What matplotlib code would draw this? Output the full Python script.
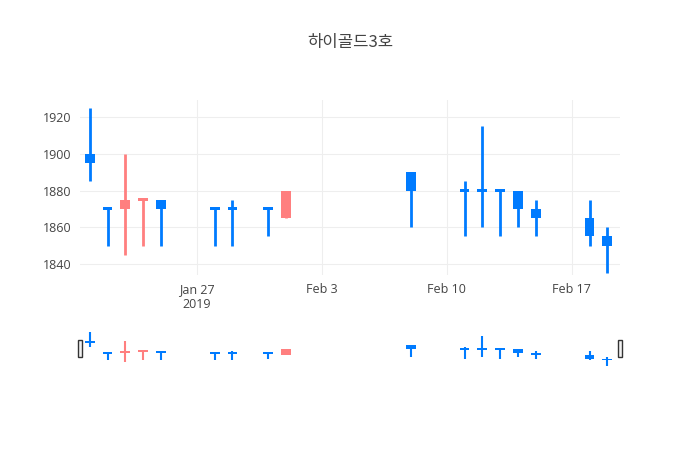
import matplotlib
matplotlib.use("Agg")
import matplotlib.pyplot as plt
import matplotlib.dates as mdates
import numpy as np
import datetime as dt

plt.rcParams['font.family'] = ['Open Sans', 'Noto Sans CJK KR', 'DejaVu Sans']

dates = ["2019-01-21", "2019-01-22", "2019-01-23", "2019-01-24", "2019-01-25",
         "2019-01-28", "2019-01-29", "2019-01-31", "2019-02-01", "2019-02-08",
         "2019-02-11", "2019-02-12", "2019-02-13", "2019-02-14", "2019-02-15",
         "2019-02-18", "2019-02-19"]
opens = [1900, 1870, 1870, 1875, 1875, 1870, 1870, 1870, 1865, 1890, 1880, 1880, 1880, 1880, 1870, 1865, 1855]
highs = [1925, 1870, 1900, 1875, 1875, 1870, 1875, 1870, 1880, 1890, 1885, 1915, 1880, 1880, 1875, 1875, 1860]
lows = [1885, 1850, 1845, 1850, 1850, 1850, 1850, 1855, 1865, 1860, 1855, 1860, 1855, 1860, 1855, 1850, 1835]
closes = [1895, 1870, 1875, 1875, 1870, 1870, 1870, 1870, 1880, 1880, 1880, 1880, 1880, 1870, 1865, 1855, 1850]
up_flags = [False, False, True, True, False, False, False, False, True, False,
            False, False, False, False, False, False, False]

UP = '#ff7f7f'
DOWN = '#007bff'

x = mdates.date2num([dt.datetime.strptime(d, "%Y-%m-%d") for d in dates])

fig = plt.figure(figsize=(7, 4.5), dpi=100)
ax = fig.add_axes([80/700, 175/450, 540/700, 175/450])
sl = fig.add_axes([80/700, 82/450, 540/700, 38/450])

def draw(a, lw, box_w, min_h):
    for xi, o, h, l, c, up in zip(x, opens, highs, lows, closes, up_flags):
        col = UP if up else DOWN
        a.vlines(xi, l, h, color=col, lw=lw, zorder=3)
        lo, hi = min(o, c), max(o, c)
        a.bar(xi, max(hi - lo, min_h), bottom=lo if hi > lo else lo - min_h/2,
              width=box_w, color=col, zorder=4, linewidth=0)

draw(ax, 2, 0.55, 1.6)
draw(sl, 1.5, 0.55, 4)

xmin = mdates.date2num(dt.datetime(2019, 1, 20, 11))
xmax = mdates.date2num(dt.datetime(2019, 2, 19, 17))
for a in (ax, sl):
    a.set_xlim(xmin, xmax)

ax.set_ylim(1834, 1929.3)
ax.set_yticks([1840, 1860, 1880, 1900, 1920])
ticks = mdates.date2num([dt.datetime(2019, 1, 27), dt.datetime(2019, 2, 3),
                         dt.datetime(2019, 2, 10), dt.datetime(2019, 2, 17)])
ax.set_xticks(ticks)
ax.set_xticklabels(["Jan 27\n2019", "Feb 3", "Feb 10", "Feb 17"])
ax.grid(True, color='#eeeeee', lw=0.8, zorder=0)
ax.tick_params(length=0, labelsize=9, colors='#444444', pad=6)
for s in ax.spines.values():
    s.set_visible(False)

sl.set_ylim(1830, 1930)
sl.set_xticks([])
sl.set_yticks([])
for s in sl.spines.values():
    s.set_visible(False)
for hx in (xmin, xmax):
    sl.add_patch(plt.Rectangle((hx - 0.1, 1858), 0.2, 46, facecolor='#f2f2f2',
                               edgecolor='#333333', lw=1, zorder=5, clip_on=False))

fig.text(350/700, 1 - 43/450, "하이골드3호", ha='center', va='center', fontsize=12,
         color='#444444', family=['Noto Sans CJK KR', 'DejaVu Sans'])

fig.savefig("out.png", dpi=100)
